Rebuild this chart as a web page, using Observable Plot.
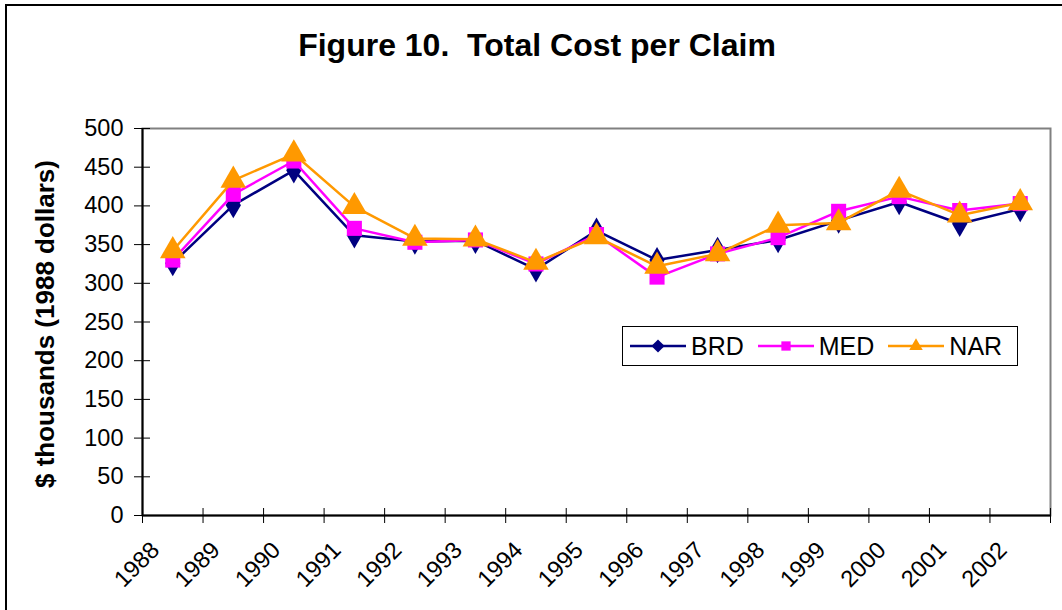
<!DOCTYPE html>
<html><head><meta charset="utf-8">
<script src="https://cdn.jsdelivr.net/npm/d3@7"></script>
<script src="https://cdn.jsdelivr.net/npm/@observablehq/plot@0.6"></script>
<style>
body{margin:0;overflow:hidden;background:#fff;font-family:"Liberation Sans",Arial,sans-serif;color:#000;}
#wrap{position:relative;width:1062px;height:610px;overflow:hidden;background:#fff;}
#frame{position:absolute;left:5px;top:4px;width:1200px;height:800px;border:2px solid #000;}
#title{position:absolute;left:0;width:1074px;top:29px;line-height:1;text-align:center;font-weight:bold;font-size:32px;white-space:pre;}
#ylab{position:absolute;left:45px;top:324px;transform:translate(-50%,-50%) rotate(-90deg);font-weight:bold;font-size:26px;white-space:nowrap;line-height:1;}
#chart{position:absolute;left:0;top:0;}
#legend{position:absolute;left:622px;top:326px;width:396px;height:40px;box-sizing:border-box;border:1px solid #000;background:#fff;display:flex;align-items:center;padding-left:7px;font-size:25px;}
.item{display:flex;align-items:center;margin-right:14px;}
.item svg{margin-right:5px;}
</style>
</head><body>
<div id="wrap">
  <div id="frame"></div>
  <div id="chart"></div>
  <div id="title">Figure 10.  Total Cost per Claim</div>
  <div id="ylab">$ thousands (1988 dollars)</div>
  <div id="legend"></div>
</div>
<script>
const years = [1988,1989,1990,1991,1992,1993,1994,1995,1996,1997,1998,1999,2000,2001,2002];
const brd = [326,401,446,362,354,355,318,368,330,343,356,381,405,377,396];
const med = [330,415,458,371,353,356,325,363,308,338,359,393,412,394,403];
const nar = [342,433,467,399,358,357,327,360,322,338,375,378,420,388,404];
const yTicks = [0,50,100,150,200,250,300,350,400,450,500];
const seriesNames = ["BRD","MED","NAR"];
const seriesColors = ["#000080","#FF00FF","#FF9900"];
const seriesSymbols = ["diamond","square","triangle"];

const seriesValues = [brd, med, nar];
const bounds = years.map(y => y - 0.5).concat([years[years.length-1] + 0.5]);

const marks = [
  Plot.frame({stroke:"#808080", strokeWidth:2}),
  Plot.ruleX([bounds[0]], {stroke:"#000", strokeWidth:2}),
  Plot.ruleY([0], {stroke:"#000", strokeWidth:2}),
  Plot.axisY({ticks: yTicks, tickSize: 16, dx: 8, tickFormat: () => "", label: null, stroke:"#000"}),
  Plot.axisY({ticks: yTicks, tickSize: 0, tickPadding: 19, label: null, fontSize: 23.5}),
  Plot.axisX({ticks: bounds, tickSize: 15, dy: -7, tickFormat: () => "", label: null, stroke:"#000"}),
  Plot.text(years, {x: d => d, frameAnchor: "bottom", text: d => String(d), rotate: -45, textAnchor: "end", dx: -12, dy: 36, fontSize: 23.5, fill:"#000"})
];
seriesNames.forEach((name, k) => {
  const rows = years.map((yr, i) => ({year: yr, value: seriesValues[k][i]}));
  marks.push(Plot.line(rows, {x: "year", y: "value", stroke: seriesColors[k], strokeWidth: 2.5}));
  marks.push(Plot.dot(rows, {x: "year", y: "value", symbol: seriesSymbols[k], fill: seriesColors[k], stroke: "none", r: [8, 8.5, 9.5][k]}));
});

const chart = Plot.plot({
  width: 1062, height: 610,
  marginTop: 128, marginLeft: 142, marginRight: 12, marginBottom: 95,
  x: {type: "linear", domain: [bounds[0], bounds[bounds.length-1]], axis: null},
  y: {domain: [0, 500], axis: null},
  style: {fontFamily: "'Liberation Sans', Arial, sans-serif", fontSize: "23px", color: "#000", background: "transparent", overflow: "visible"},
  marks
});
document.getElementById("chart").appendChild(chart);

// legend
const legend = document.getElementById("legend");
seriesNames.forEach((name, k) => {
  const item = document.createElement("div");
  item.className = "item";
  const sym = d3.symbol().type([d3.symbolDiamond2, d3.symbolSquare2, d3.symbolTriangle2][k]).size(k===2?130:110)();
  item.innerHTML = `<svg width="56" height="24"><line x1="0" x2="56" y1="12" y2="12" stroke="${seriesColors[k]}" stroke-width="2.5"/><path d="${sym}" transform="translate(28,12)" fill="${seriesColors[k]}"/></svg><span>${name}</span>`;
  legend.appendChild(item);
});
</script>
</body></html>
